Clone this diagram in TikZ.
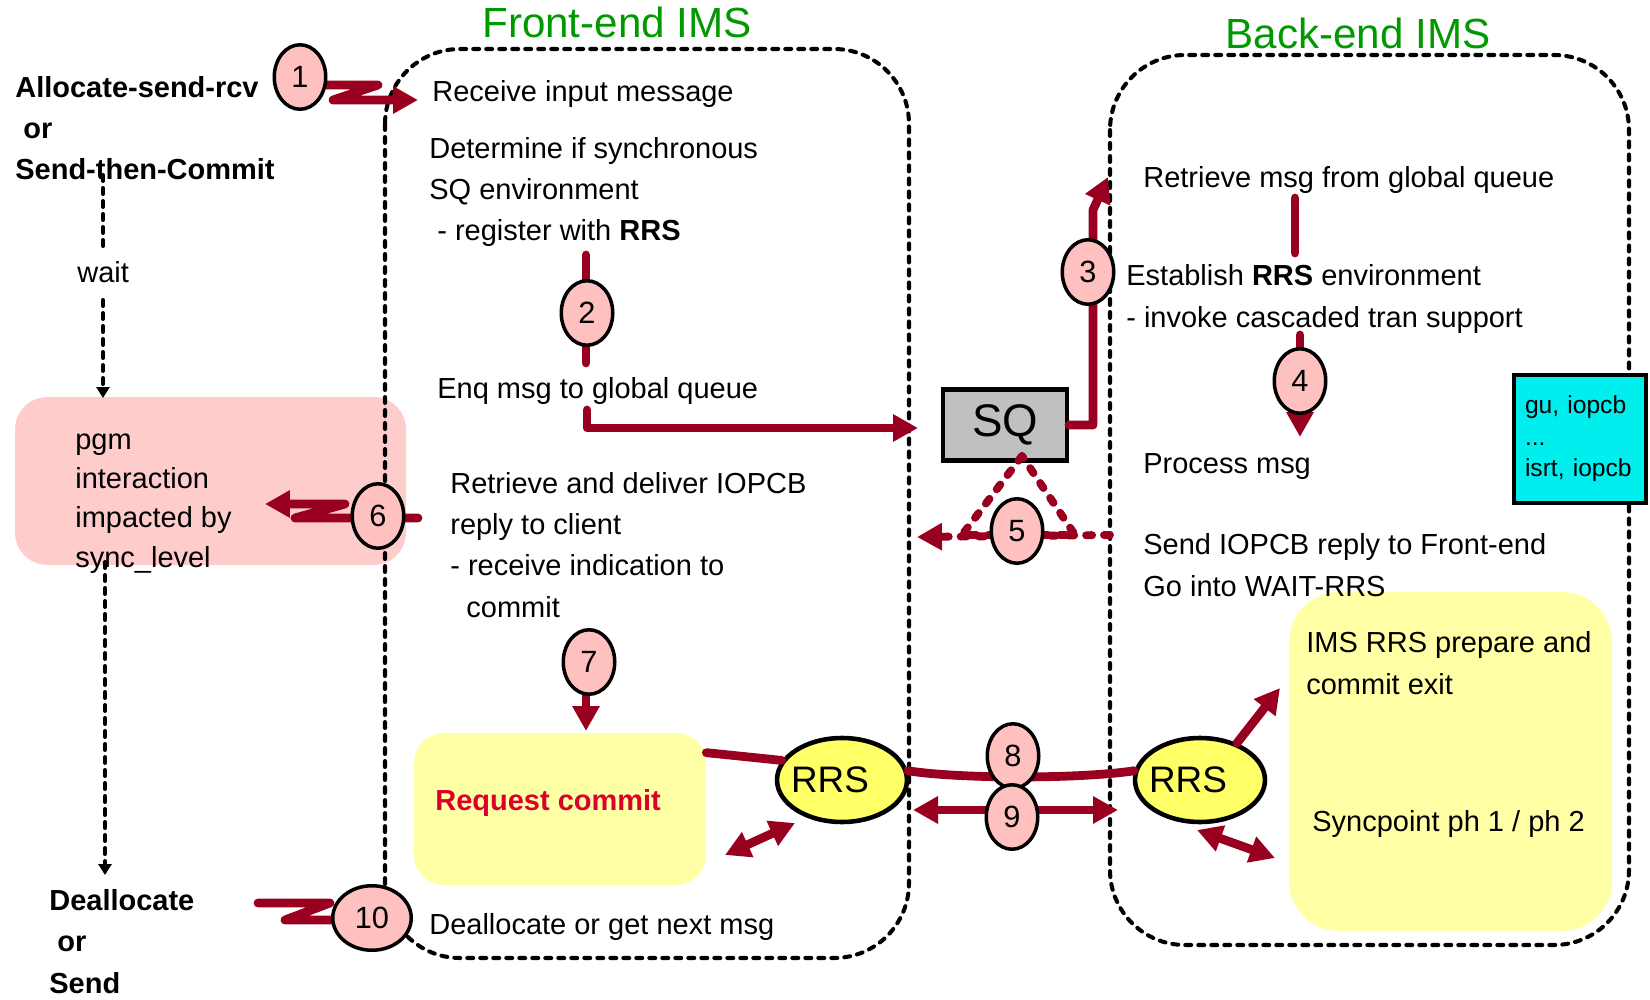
\documentclass[tikz,border=0pt]{standalone}
\usepackage{fontspec}
\setmainfont{Liberation Sans}
\usetikzlibrary{positioning, arrows.meta, shapes.geometric, calc}

\definecolor{flowred}{RGB}{153,0,32}
\definecolor{numpink}{RGB}{255,192,192}
\definecolor{notepink}{RGB}{255,204,204}
\definecolor{noteyellow}{RGB}{255,255,165}
\definecolor{rrsyellow}{RGB}{255,255,102}
\definecolor{sqgray}{RGB}{192,192,192}
\definecolor{pcbcyan}{RGB}{0,238,238}
\definecolor{imsgreen}{RGB}{0,153,0}
\definecolor{commitred}{RGB}{220,0,45}

\begin{document}
\begin{tikzpicture}[x=0.02cm, y=-0.02cm,
    txt/.style={anchor=base west, inner sep=0pt, align=left, font=\fontsize{16.5}{23.5}\selectfont},
    boldtxt/.style={txt, font=\fontsize{16.5}{23.5}\selectfont\bfseries},
    imstitle/.style={anchor=base, inner sep=0pt, text=imsgreen, font=\fontsize{24}{24}\selectfont},
    stepnum/.style={ellipse, draw, line width=2pt, fill=numpink, minimum width=1.03cm, minimum height=1.29cm, inner sep=0pt, font=\fontsize{17.5}{17.5}\selectfont},
    rrsnode/.style={ellipse, draw, line width=2.6pt, fill=rrsyellow, minimum width=2.6cm, minimum height=1.68cm, inner sep=0pt, font=\fontsize{21}{21}\selectfont},
    imsframe/.style={draw, line width=2.3pt, dash pattern=on 3.4pt off 4pt, line cap=round, rounded corners=1.5cm},
    waitline/.style={draw, line width=2.3pt, dash pattern=on 3.4pt off 4pt, line cap=round},
    blacktip/.style={-{Triangle[length=0.22cm,width=0.26cm]}},
    flowline/.style={draw=flowred, line width=5pt, line cap=round, line join=round},
    redtip/.style={-{Triangle[length=0.5cm,width=0.52cm]}},
    dualtip/.style={{Triangle[length=0.5cm,width=0.52cm]}-{Triangle[length=0.5cm,width=0.52cm]}},
    dashred/.style={draw=flowred, line width=4.5pt, dash pattern=on 3.4pt off 6.8pt, line cap=round, line join=round},
]
    \useasboundingbox (0,0) rectangle (1650,1000);

    % Notes
    \fill [notepink, rounded corners=0.65cm] (15,397) rectangle (406,565);
    \fill [noteyellow, rounded corners=1cm] (1289,592) rectangle (1612,931);
    \node [fill=noteyellow, rounded corners=0.6cm, minimum width=5.84cm, minimum height=3.04cm] (reqbox) at (560,809) {};

    % Frames
    \draw [imsframe] (385,49) rectangle (909,958);
    \draw [imsframe] (1110,55) rectangle (1629,945);
    \node [imstitle] (fetitle) at (617,38) {Front-end IMS};
    \node [imstitle] (betitle) at (1358,49) {Back-end IMS};

    % Client side (multi-line texts sit on their last baseline)
    \node [boldtxt] (alloc) at (15,180) {Allocate-send-rcv\\\ or\\Send-then-Commit};
    \node [txt] (wait) at (77,282) {wait};
    \node [txt, font=\fontsize{16.5}{22.2}\selectfont] (pgm) at (75,567) {pgm\\interaction\\impacted by\\sync\_level};
    \node [boldtxt] (dealloc) at (49,993) {Deallocate\\\ or\\Send};
    \coordinate (w1) at (103,175);
    \coordinate (w2) at (103,252);
    \coordinate (w3) at (103,300);
    \coordinate (w4) at (103,398);
    \coordinate (w5) at (105,562);
    \coordinate (w6) at (105,875);
    \draw [waitline] (w1) -- (w2);
    \draw [waitline, blacktip] (w3) -- (w4);
    \draw [waitline, blacktip] (w5) -- (w6);

    % Front-end steps
    \node [txt] (recv) at (432,102) {Receive input message};
    \node [txt] (determ) at (429,241) {Determine if synchronous\\SQ environment\\\ - register with \textbf{RRS}};
    \node [txt] (enq) at (437,398) {Enq msg to global queue};
    \node [txt] (deliver) at (450,617) {Retrieve and deliver IOPCB\\reply to client\\- receive indication to\\\ \ commit};
    \node [txt, font=\fontsize{16.5}{23.5}\selectfont\bfseries, text=commitred] (reqtxt) at (435,810) {Request commit};
    \node [txt] (nextmsg) at (429,934) {Deallocate or get next msg};

    % Back-end steps
    \node [txt] (bretr) at (1143,188) {Retrieve msg from global queue};
    \node [txt] (establ) at (1126,327) {Establish \textbf{RRS} environment\\- invoke cascaded tran support};
    \node [txt] (proc) at (1143,473) {Process msg};
    \node [txt] (sendrep) at (1143,596) {Send IOPCB reply to Front-end\\Go into WAIT-RRS};
    \node [txt] (exittxt) at (1306,694) {IMS RRS prepare and\\commit exit};
    \node [txt] (syncpt) at (1312,831) {Syncpoint ph 1 / ph 2};
    \node [draw, line width=2.4pt, fill=pcbcyan, minimum width=2.64cm, minimum height=2.56cm, text width=2.2cm, align=left, font=\fontsize{14}{18}\selectfont] (pcb) at (1580,439) {gu, iopcb\\...\\isrt, iopcb};

    % Shared queue
    \node [draw, line width=2.3pt, fill=sqgray, minimum width=2.48cm, minimum height=1.42cm, font=\fontsize{26}{26}\selectfont] (sq) at (1005,425) {SQ};

    % 1
    \coordinate (f1a) at (300,85);
    \coordinate (f1b) at (418,100);
    \draw [flowline, redtip] (f1a) -- (378,85) -- (333,100) -- (f1b);
    \node [stepnum] (n1) at (300,77) {1};
    % 2
    \coordinate (f2a) at (586,255);
    \coordinate (f2b) at (586,363);
    \draw [flowline] (f2a) -- (f2b);
    \node [stepnum] (n2) at (587,313) {2};
    \coordinate (enqout) at (587,410);
    \coordinate (sqin) at (918,428);
    \draw [flowline, redtip] (enqout) |- (sqin);
    % 3
    \coordinate (f3tip) at (1108,177);
    \draw [flowline, redtip] (sq.east) -| (1093,210) -- (f3tip);
    \node [stepnum] (n3) at (1088,272) {3};
    \coordinate (f3a) at (1295,198);
    \coordinate (f3b) at (1295,253);
    \draw [flowline] (f3a) -- (f3b);
    % 4
    \coordinate (f4a) at (1300,335);
    \coordinate (f4b) at (1300,437);
    \draw [flowline, redtip] (f4a) -- (f4b);
    \node [stepnum] (n4) at (1300,381) {4};
    % 5
    \coordinate (t5top) at (1022,456);
    \coordinate (t5left) at (962,535);
    \coordinate (t5right) at (1075,535);
    \draw [dashred] (t5top) -- (t5left) -- (t5right) -- cycle;
    \coordinate (f5a) at (1110,535);
    \coordinate (f5b) at (917,537);
    \draw [dashred, redtip] (f5a) -- (f5b);
    \node [stepnum] (n5) at (1017,531) {5};
    % 6
    \coordinate (f6a) at (418,518);
    \coordinate (f6b) at (265,504);
    \draw [flowline, redtip] (f6a) -- (295,518) -- (345,504) -- (f6b);
    \node [stepnum] (n6) at (378,516) {6};
    % 7
    \coordinate (f7a) at (586,665);
    \coordinate (f7b) at (586,731);
    \draw [flowline, redtip] (f7a) -- (f7b);
    \node [stepnum] (n7) at (589,662) {7};

    % RRS
    \node [rrsnode] (rrsL) at (842,780) {\makebox[0pt]{RRS\kern0.48cm}};
    \node [rrsnode] (rrsR) at (1200,780) {\makebox[0pt]{RRS\kern0.48cm}};
    % 8
    \coordinate (f8tip) at (1280,688);
    \draw [flowline] ([yshift=-0.4cm]reqbox.north east) -- (rrsL.162);
    \draw [flowline] (rrsL.8) .. controls (960,779) and (1080,779) .. (rrsR.172);
    \draw [flowline, redtip] (rrsR.45) -- (f8tip);
    \node [stepnum] (n8) at (1013,756) {8};
    % 9
    \coordinate (f9a) at (913,810);
    \coordinate (f9b) at (1118,810);
    \draw [flowline, dualtip] (f9a) -- (f9b);
    \node [stepnum] (n9) at (1012,817) {9};
    \coordinate (d1a) at (725,855);
    \coordinate (d1b) at (795,823);
    \draw [flowline, dualtip] (d1a) -- (d1b);
    \coordinate (d2a) at (1197,830);
    \coordinate (d2b) at (1275,858);
    \draw [flowline, dualtip] (d2a) -- (d2b);
    % 10
    \coordinate (f10a) at (258,903);
    \coordinate (f10b) at (372,920);
    \draw [flowline] (f10a) -- (330,903) -- (285,920) -- (f10b);
    \node [stepnum, minimum width=1.57cm] (n10) at (372,918) {10};
\end{tikzpicture}
\end{document}
